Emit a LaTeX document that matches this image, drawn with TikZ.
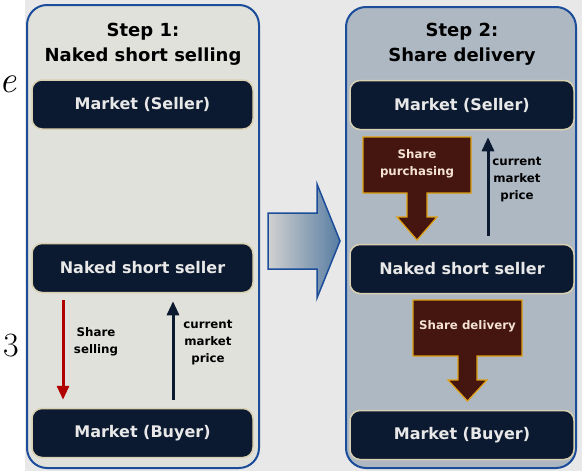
\documentclass[tikz,border=0pt]{standalone}
\usepackage{fontspec}
\newfontfamily\dv{DejaVu Sans}
\usetikzlibrary{arrows.meta,calc}
\definecolor{bggrey}{HTML}{E8E8E8}
\definecolor{lpanel}{HTML}{E1E1DB}
\definecolor{rpanel}{HTML}{AEB8C3}
\definecolor{pborder}{HTML}{1C4D9A}
\definecolor{navy}{HTML}{0B1A30}
\definecolor{beige}{HTML}{D9D0B2}
\definecolor{boxtext}{HTML}{E8E8E8}
\definecolor{maroon}{HTML}{45150F}
\definecolor{gold}{HTML}{E0A010}
\definecolor{blocktext}{HTML}{F4E2D0}
\definecolor{redarrow}{HTML}{B00000}
\definecolor{steel}{HTML}{587DA2}
\begin{document}
\begin{tikzpicture}[x=1pt,y=-1pt,
  panel/.style={rounded corners=20pt,line width=2pt,draw=pborder},
  market/.style={rounded corners=10pt,fill=navy,draw=beige,line width=1.5pt,
    text=boxtext,font=\dv\bfseries\fontsize{16}{19}\selectfont,
    minimum height=49pt,inner sep=0pt},
  title/.style={align=center,font=\dv\bfseries\fontsize{18}{25}\selectfont,text=black},
  small/.style={align=center,font=\dv\bfseries\fontsize{11.8}{17}\selectfont,text=black},
  blocktxt/.style={align=center,font=\dv\bfseries\fontsize{11.8}{17}\selectfont,text=blocktext},
  block/.style={fill=maroon,draw=gold,line width=1.2pt},
  flow/.style={line width=3pt,-{Triangle[width=12pt,length=14pt]}},
]
\useasboundingbox (0,0) rectangle (582,471);
\fill[white] (0,0) rectangle (582,471);
\fill[bggrey] (25,0) rectangle (582,471);

% stray page fragments
\node[font=\itshape\fontsize{38}{38}\selectfont,anchor=center,inner sep=0pt] (fe) at (8,84) {e};
\node[font=\fontsize{34}{34}\selectfont,anchor=center,inner sep=0pt] (f3) at (11,346) {3};

% panels
\draw[panel,fill=lpanel] (27,5) rectangle (259,468);
\draw[panel,fill=rpanel] (346,7) rectangle (576,468);

% big arrow
\draw[left color=bggrey!90!black,right color=steel,draw=pborder,line width=1.5pt]
  (268,213) -- (317,213) -- (317,184) -- (340,241) -- (317,298) -- (317,269) -- (268,269) -- cycle;

% left panel
\node[title] (t1) at (143,44) {Step 1:\\Naked short selling};
\node[market,minimum width=221pt] (ms1) at (142.5,104.5) {Market (Seller)};
\node[market,minimum width=221pt] (ns1) at (142.5,268) {Naked short seller};
\node[market,minimum width=221pt] (mb1) at (142.5,433) {Market (Buyer)};
\coordinate (cl1) at (63,0);
\coordinate (cl2) at (173,0);
\draw[flow,redarrow,shorten <=7pt,shorten >=8pt] (ns1.south -| cl1) -- (mb1.north -| cl1);
\draw[flow,navy,shorten <=8pt,shorten >=8pt] (mb1.north -| cl2) -- (ns1.south -| cl2);
\node[small] (l1) at (96,342) {Share\\selling};
\node[small] (l2) at (208,343) {current\\market\\price};

% right panel
\node[title] (t2) at (462,44) {Step 2:\\Share delivery};
\node[market,minimum width=224pt] (ms2) at (462,105) {Market (Seller)};
\node[market,minimum width=224pt] (ns2) at (462,269) {Naked short seller};
\node[market,minimum width=224pt] (mb2) at (462,435) {Market (Buyer)};
\coordinate (cr1) at (488,0);
\draw[flow,navy,shorten <=8pt,shorten >=7pt] (ns2.north -| cr1) -- (ms2.south -| cr1);
\node[small] (l3) at (517,180) {current\\market\\price};

% block arrow: share purchasing
\draw[block] (363,137) -- (471,137) -- (471,193) -- (427,193) -- (427,217) -- (437,217)
  -- (417,240) -- (397,217) -- (407,217) -- (407,193) -- (363,193) -- cycle;
\node[blocktxt] (sp) at (417,164) {Share\\purchasing};

% block arrow: share delivery
\draw[block] (413,300) -- (522,300) -- (522,356) -- (477,356) -- (477,380) -- (487,380)
  -- (467.5,401) -- (448,380) -- (458,380) -- (458,356) -- (413,356) -- cycle;
\node[blocktxt] (sd) at (467.5,326) {Share delivery};
\end{tikzpicture}
\end{document}
